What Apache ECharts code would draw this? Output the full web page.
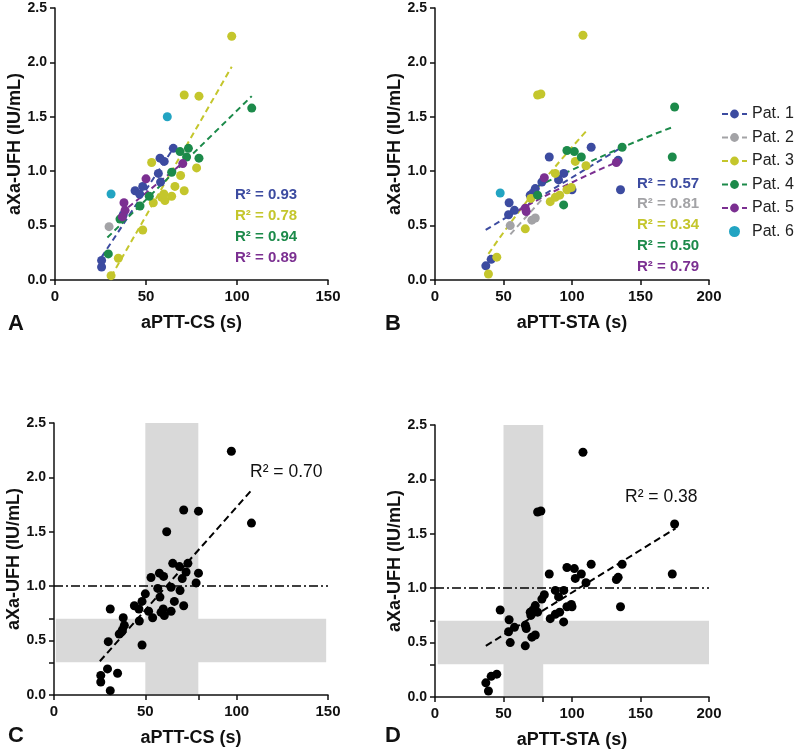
<!DOCTYPE html>
<html><head><meta charset="utf-8">
<script src="https://cdn.jsdelivr.net/npm/echarts@6/dist/echarts.min.js"></script>
<style>html,body{margin:0;padding:0;background:#fff}#c{width:800px;height:750px}</style>
</head><body><div id="c"></div>
<script>
// ---------- DATA ----------
const patients = ['Pat. 1','Pat. 2','Pat. 3','Pat. 4','Pat. 5','Pat. 6'];

// Panel A: aPTT-CS (s) vs aXa-UFH (IU/mL)
const csPat1 = [[25.6,0.12],[25.6,0.18],[37.5,0.60],[44,0.82],[46.5,0.79],[48.2,0.86],[56.8,0.98],[58,0.90],[57.7,1.12],[60,1.09],[65,1.21]];
const csPat2 = [[29.7,0.49]];
const csPat3 = [[30.8,0.04],[34.8,0.20],[48.2,0.46],[54,0.71],[53.1,1.08],[58.6,0.76],[60.4,0.73],[59.8,0.79],[64.1,0.77],[65.9,0.86],[71,0.82],[69,0.96],[71,1.70],[79.1,1.69],[77.8,1.03],[97.1,2.24]];
const csPat4 = [[29.3,0.24],[35.7,0.56],[46.7,0.68],[51.8,0.77],[64.1,0.99],[68.7,1.18],[73.3,1.21],[72.3,1.13],[79.1,1.12],[108.1,1.58]];
const csPat5 = [[37.9,0.71],[38.5,0.64],[37,0.58],[50,0.93],[70.2,1.07]];
const csPat6 = [[30.8,0.79],[61.7,1.50]];
// fitted trend lines (panel A), endpoints
const csFit1 = [[25.6,0.21],[65,1.21]];
const csFit3 = [[30.8,0.03],[97.1,1.96]];
const csFit4 = [[28.8,0.39],[108.1,1.69]];
const csFit5 = [[36,0.61],[70.5,1.08]];
const csR2 = ['0.93','0.78','0.94','0.89'];

// Panel B: aPTT-STA (s) vs aXa-UFH (IU/mL)
const staPat1 = [[37.1,0.13],[41,0.19],[53.7,0.60],[54.1,0.71],[58,0.64],[69.5,0.78],[71.5,0.80],[73.2,0.84],[78,0.90],[83.4,1.13],[90.2,0.92],[94,0.98],[100,0.83],[114,1.22],[133.7,1.10],[135.4,0.83]];
const staPat2 = [[54.9,0.50],[70.7,0.55],[73.2,0.57]];
const staPat3 = [[39,0.055],[45.1,0.21],[65.9,0.47],[70,0.75],[74.9,1.70],[77.3,1.71],[84.1,0.72],[87.8,0.76],[87.8,0.98],[91,0.78],[96.3,0.83],[99.5,0.85],[102.4,1.09],[110.2,1.05],[108,2.25]];
const staPat4 = [[74.9,0.78],[93.9,0.69],[96.3,1.19],[101.7,1.18],[106.8,1.13],[136.6,1.22],[173.2,1.13],[174.9,1.59]];
const staPat5 = [[65.9,0.66],[66.6,0.63],[79.8,0.94],[132.4,1.08]];
const staPat6 = [[47.6,0.80]];
const staFit1 = [[37,0.46],[135,1.21]];
const staFit2 = [[55,0.42],[78,0.74]];
const staFit3 = [[39,0.24],[70,0.77],[110.5,1.37]];
const staFit4 = [[74.5,0.86],[135,1.21],[174.5,1.41]];
const staFit5 = [[61,0.64],[94,0.86],[132,1.08]];
const staR2 = ['0.57','0.81','0.34','0.50','0.79'];

// Panels C / D: pooled regression
const csFitAll = [[25.1,0.31],[108,1.88]];
const staFitAll = [[37.1,0.47],[175.6,1.55]];
const r2All = ['0.70','0.38'];

// target ranges (grey bands) and reference line
const aXaRange = [0.3, 0.7];
const aXaBandExtent = [0.01, 2.5];
const csRange = [50, 79];
const staRange = [50, 79];
const csBandExtent = [1, 149];
const staBandExtent = [2, 200];
const aXaRef = 1.0;

// ---------- STYLE ----------
const colors = ['#3c4ba0','#a3a3a6','#c4c62c','#1c8a4a','#7b2f91','#22a4c2'];
const FF = '"Liberation Sans", Arial, sans-serif';
const chart = echarts.init(document.getElementById('c'));

function xAx(gi, max, name, customTicks) {
  const o = {type:'value', gridIndex:gi, min:0, max:max, interval:50,
    name:name, nameLocation:'middle', nameGap:34,
    nameTextStyle:{fontFamily:FF, fontWeight:'bold', fontSize:18, color:'#111'},
    axisLine:{lineStyle:{color:'#111', width:1.5}},
    axisTick:{show:true, length:5, lineStyle:{color:'#111', width:1.5}},
    axisLabel:{fontFamily:FF, fontWeight:'bold', fontSize:15, color:'#111', margin:9},
    splitLine:{show:false}};
  if (customTicks) o.axisTick.customValues = customTicks;
  return o;
}
function yAx(gi, customTicks) {
  const o = {type:'value', gridIndex:gi, min:0, max:2.5, interval:0.5,
    name:'aXa-UFH (IU/mL)', nameLocation:'middle', nameGap:30,
    nameTextStyle:{fontFamily:FF, fontWeight:'bold', fontSize:18, color:'#111'},
    axisLine:{lineStyle:{color:'#111', width:1.5}},
    axisTick:{show:true, length:5, lineStyle:{color:'#111', width:1.5}},
    axisLabel:{fontFamily:FF, fontWeight:'bold', fontSize:14, color:'#111', margin:8,
      formatter:v=>v.toFixed(1)},
    splitLine:{show:false}};
  if (customTicks) o.axisTick.customValues = customTicks;
  return o;
}
function scat(name, data, gi, color) {
  return {type:'scatter', name, data, xAxisIndex:gi, yAxisIndex:gi, symbol:'circle',
    symbolSize:9, itemStyle:{color, opacity:1}, z:4};
}
function fit(name, data, gi, color, smooth) {
  return {type:'line', name, data, xAxisIndex:gi, yAxisIndex:gi, showSymbol:false,
    symbol:'circle', symbolSize:8, smooth:!!smooth, silent:true,
    lineStyle:{type:[6,4], width:2, color}, itemStyle:{color}, z:3};
}

const series = [];
// B fits first (legend icons)
series.push(fit('Pat. 1', staFit1, 1, colors[0]));
series.push(fit('Pat. 2', staFit2, 1, colors[1]));
series.push(fit('Pat. 3', staFit3, 1, colors[2], true));
series.push(fit('Pat. 4', staFit4, 1, colors[3], true));
series.push(fit('Pat. 5', staFit5, 1, colors[4], true));
// A fits
series.push(fit('Pat. 1', csFit1, 0, colors[0]));
series.push(fit('Pat. 3', csFit3, 0, colors[2]));
series.push(fit('Pat. 4', csFit4, 0, colors[3]));
series.push(fit('Pat. 5', csFit5, 0, colors[4]));
// A / B points
const csP = [csPat1,csPat2,csPat3,csPat4,csPat5,csPat6];
const staP = [staPat1,staPat2,staPat3,staPat4,staPat5,staPat6];
csP.forEach((d,i)=>series.push(scat(patients[i], d, 0, colors[i])));
staP.forEach((d,i)=>series.push(scat(patients[i], d, 1, colors[i])));

// C / D
function pooled(gi, pts, fitData, xRange, xExt) {
  series.push({type:'line', name:'fitAll'+gi, data:fitData, xAxisIndex:gi, yAxisIndex:gi,
    showSymbol:false, silent:true, z:3, lineStyle:{type:[7,4], width:2, color:'#000'},
    markArea:{silent:true, itemStyle:{color:'#d9d9d9', opacity:1}, z:1,
      data:[[{coord:[xRange[0], aXaBandExtent[0]]},{coord:[xRange[1], aXaBandExtent[1]]}],
            [{coord:[xExt[0], aXaRange[0]]},{coord:[xExt[1], aXaRange[1]]}]]},
    markLine:{silent:true, symbol:['none','none'], label:{show:false},
      lineStyle:{type:[9,3,2,3], width:1.5, color:'#000'}, data:[{yAxis:aXaRef}]}
  });
  series.push({type:'scatter', name:'all'+gi, data:[].concat(...pts), xAxisIndex:gi, yAxisIndex:gi,
    symbol:'circle', symbolSize:9, itemStyle:{color:'#000', opacity:1}, z:4});
}
pooled(2, csP, csFitAll, csRange, csBandExtent);
pooled(3, staP, staFitAll, staRange, staBandExtent);

const yTicksCD = [0,0.3,0.5,0.7,1.0,1.5,2.0,2.5];

const r2Text = (x,y,val,color,bold)=>({type:'text', left:x, top:y,
  style:{text:'R² = '+val, fill:color, font:(bold?'bold 15px ':'17.5px ')+FF}});
const graphics = [];
csR2.forEach((v,i)=>graphics.push(r2Text(235, 187+i*21, v, [colors[0],colors[2],colors[3],colors[4]][i], true)));
staR2.forEach((v,i)=>graphics.push(r2Text(637, 176+i*20.8, v, colors[i], true)));
graphics.push(r2Text(250, 463, r2All[0], '#111', false));
graphics.push(r2Text(625, 488, r2All[1], '#111', false));
[['A',8,313],['B',385,313],['C',8,725],['D',385,725]].forEach(([t,x,y])=>
  graphics.push({type:'text', left:x, top:y, style:{text:t, fill:'#111', font:'bold 22px '+FF}}));

chart.setOption({
  animation:false,
  backgroundColor:'#fff',
  grid:[
    {left:55, top:8, width:273, height:272},
    {left:435, top:8, width:274, height:272},
    {left:54, top:423, width:274, height:272},
    {left:435, top:425, width:274, height:272}
  ],
  xAxis:[xAx(0,150,'aPTT-CS (s)'), xAx(1,200,'aPTT-STA (s)'),
         xAx(2,150,'aPTT-CS (s)',[0,50,csRange[1],100,150]), xAx(3,200,'aPTT-STA (s)',[0,50,staRange[1],100,150,200])],
  yAxis:[yAx(0), yAx(1), yAx(2,yTicksCD), yAx(3,yTicksCD)],
  legend:{data:patients, orient:'vertical', left:716, top:101, itemGap:7.5, itemWidth:25, itemHeight:11,
    selectedMode:false, textStyle:{fontFamily:FF, fontSize:16, color:'#222'}},
  graphic:graphics,
  series
});
</script></body></html>
